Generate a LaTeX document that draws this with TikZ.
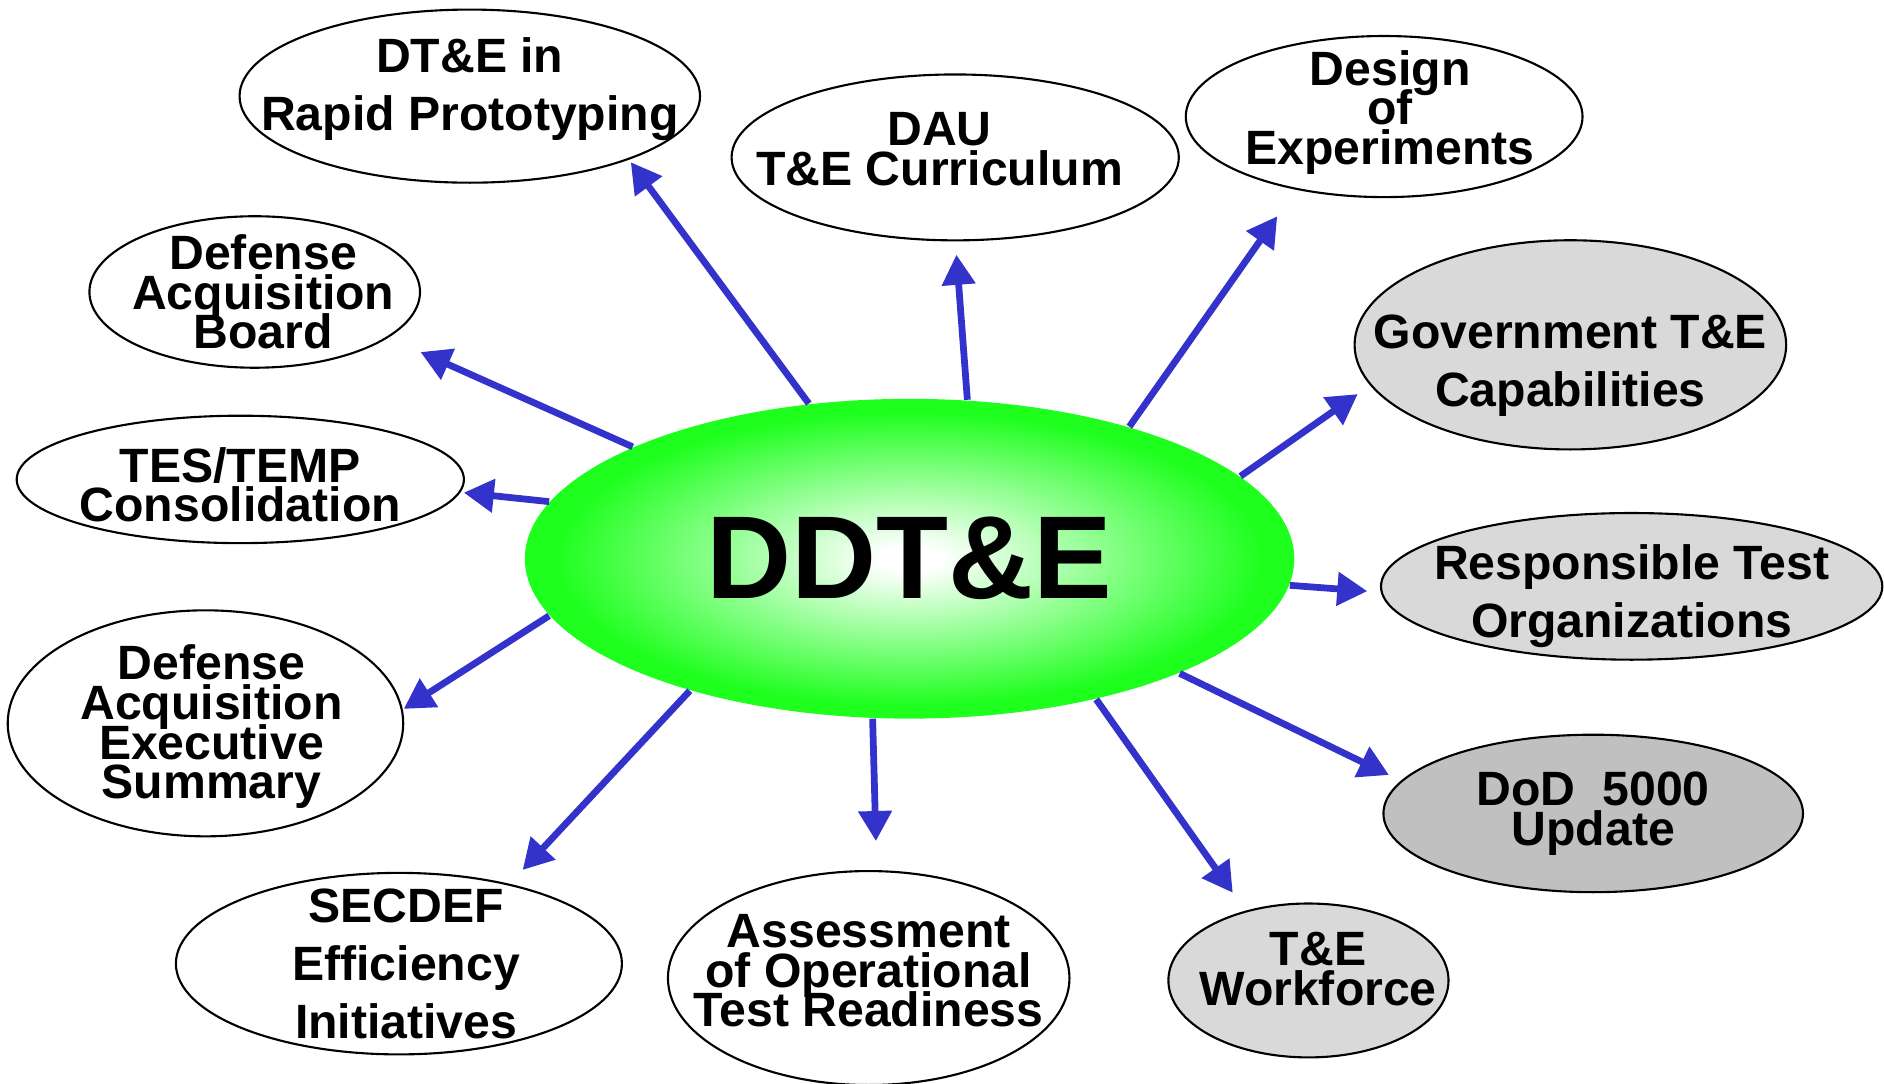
\documentclass[tikz,border=0pt]{standalone}
\usepackage{fontspec}
\setmainfont{Liberation Sans}
\usetikzlibrary{shapes.geometric, arrows.meta}

\definecolor{glowgreen}{RGB}{30,255,30}
\definecolor{linkblue}{RGB}{51,51,204}
\definecolor{palegray}{RGB}{217,217,217}
\definecolor{midgray}{RGB}{192,192,192}
\pgfdeclareradialshading{ddteglow}{\pgfpoint{0bp}{0bp}}{color(0bp)=(white); color(2bp)=(white); color(23bp)=(glowgreen); color(50bp)=(glowgreen)}
\newcommand{\packedlines}{\setlength{\lineskiplimit}{-100pt}}

\begin{document}
\begin{tikzpicture}[x=0.01cm, y=-0.01cm]
            \tikzstyle{bubble}=[ellipse, draw=black, line width=0.5pt, inner sep=0pt, fill=white]
            \tikzstyle{tight}=[font=\bfseries\fontsize{11.4pt}{9.4pt}\selectfont\packedlines, align=center, inner sep=0pt]
            \tikzstyle{loose}=[font=\bfseries\fontsize{11.4pt}{13.7pt}\selectfont\packedlines, align=center, inner sep=0pt]
            \tikzstyle{link}=[draw=linkblue, line width=1.6pt, -{Triangle[length=0.25cm, width=0.27cm]}]
            \useasboundingbox (0,0) rectangle (1568,902);

            \node[ellipse, inner sep=0pt, minimum width=6.4cm, minimum height=2.66cm, shading=ddteglow,
                  font=\bfseries\fontsize{27.9pt}{30pt}\selectfont] (ddte) at (757,465) {DDT\&E};

            \node[bubble, minimum width=3.83cm, minimum height=1.44cm,
                  label={[loose, yshift=0.06cm]center:{DT\&E in\\Rapid Prototyping}}] (rapid) at (391,80) {};
            \node[bubble, minimum width=3.72cm, minimum height=1.38cm,
                  label={[tight, xshift=-0.13cm, yshift=0.07cm]center:{DAU\\T\&E Curriculum}}] (dau) at (795,131) {};
            \node[bubble, minimum width=3.30cm, minimum height=1.34cm,
                  label={[tight, xshift=0.05cm, yshift=0.035cm]center:{Design\\of\\Experiments}}] (design) at (1152,97) {};
            \node[bubble, fill=palegray, minimum width=3.59cm, minimum height=1.74cm,
                  label={[loose, yshift=-0.17cm]center:{Government T\&E\\Capabilities}}] (govt) at (1307,287) {};
            \node[bubble, fill=palegray, minimum width=4.17cm, minimum height=1.22cm,
                  label={[loose, yshift=-0.085cm]center:{Responsible Test\\Organizations}}] (rto) at (1358,488) {};
            \node[bubble, fill=midgray, minimum width=3.49cm, minimum height=1.31cm,
                  label={[tight]center:{DoD~~5000\\Update}}] (dod) at (1326,677) {};
            \node[bubble, fill=palegray, minimum width=2.33cm, minimum height=1.28cm,
                  label={[tight, xshift=0.08cm, yshift=0.095cm]center:{T\&E\\Workforce}}] (workforce) at (1089,816) {};
            \node[bubble, minimum width=3.34cm, minimum height=1.78cm,
                  label={[tight, yshift=0.06cm]center:{Assessment\\of Operational\\Test Readiness}}] (aotr) at (723,814) {};
            \node[bubble, minimum width=3.71cm, minimum height=1.51cm,
                  label={[loose, xshift=0.06cm]center:{SECDEF\\Efficiency\\Initiatives}}] (secdef) at (332,802) {};
            \node[bubble, minimum width=3.29cm, minimum height=1.88cm,
                  label={[tight, xshift=0.05cm, yshift=-0.03cm]center:{Defense\\Acquisition\\Executive\\Summary}}] (daes) at (171,602) {};
            \node[bubble, minimum width=3.72cm, minimum height=1.06cm,
                  label={[tight, yshift=-0.045cm]center:{TES/TEMP\\Consolidation}}] (tes) at (200,399) {};
            \node[bubble, minimum width=2.75cm, minimum height=1.26cm,
                  label={[tight, xshift=0.07cm]center:{Defense\\Acquisition\\Board}}] (dab) at (212,243) {};

            % arrow tips, short of each bubble
            \coordinate (tRapid) at (525,135);
            \coordinate (tDau) at (796,212);
            \coordinate (tDesign) at (1063,180);
            \coordinate (tGovt) at (1130,328);
            \coordinate (tRto) at (1138,492);
            \coordinate (tDod) at (1156,645);
            \coordinate (tWorkforce) at (1026,743);
            \coordinate (tAotr) at (729,700);
            \coordinate (tSecdef) at (435,724);
            \coordinate (tDaes) at (336,590);
            \coordinate (tTes) at (386,410);
            \coordinate (tDab) at (350,293);

            \draw[link] (ddte.123.3) -- (tRapid);
            \draw[link] (ddte.70.8) -- (tDau);
            \draw[link] (ddte.31.7) -- (tDesign);
            \draw[link] (ddte.14.9) -- (tGovt);
            \draw[link] (ddte.-4.9) -- (tRto);
            \draw[link] (ddte.-23.2) -- (tDod);
            \draw[link] (ddte.-37.7) -- (tWorkforce);
            \draw[link] (ddte.257.9) -- (tAotr);
            \draw[link] (ddte.211.5) -- (tSecdef);
            \draw[link] (ddte.189.4) -- (tDaes);
            \draw[link] (ddte.171.1) -- (tTes);
            \draw[link] (ddte.158.1) -- (tDab);
\end{tikzpicture}
\end{document}
